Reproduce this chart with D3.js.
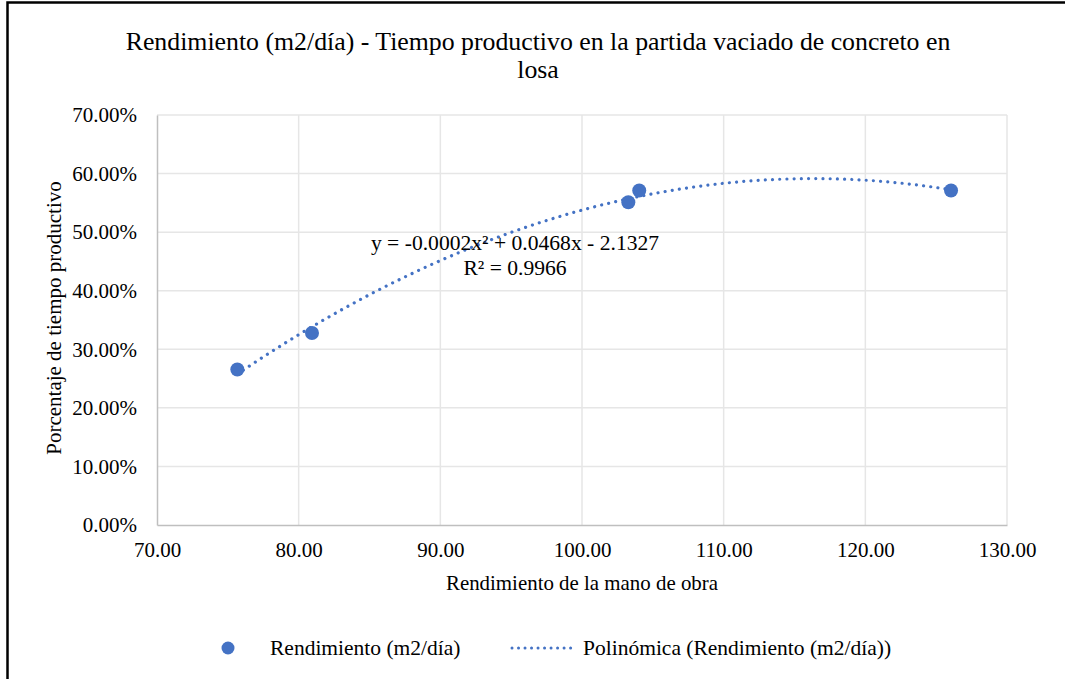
<!DOCTYPE html>
<html>
<head>
<meta charset="utf-8">
<script src="https://cdn.jsdelivr.net/npm/d3@7"></script>
<style>
  body { margin: 0; background: #fff; }
  svg { display: block; }
  svg text { font-family: "Liberation Serif", "Times New Roman", serif !important; fill: #000; }
</style>
</head>
<body>
<svg id="chart" width="1065" height="679"></svg>
<script>
// ---- data ----
const titleLines = ["Rendimiento (m2/día) - Tiempo productivo en la partida vaciado de concreto en", "losa"];
const rendimiento = [75.67, 80.94, 103.27, 104.04, 126.05];          // m2/día
const tiempoProductivo = [0.2654, 0.3278, 0.5511, 0.5710, 0.5710];   // share of productive time
const xTicks = [70, 80, 90, 100, 110, 120, 130];
const yTicks = [0, 0.1, 0.2, 0.3, 0.4, 0.5, 0.6, 0.7];
const equationLines = ["y = -0.0002x² + 0.0468x - 2.1327", "R² = 0.9966"];
const legendLabels = ["Rendimiento (m2/día)", "Polinómica (Rendimiento (m2/día))"];
const xTitle = "Rendimiento de la mano de obra";
const yTitle = "Porcentaje de tiempo productivo";

// ---- layout ----
const W = 1065, H = 679;
const plot = { left: 157, right: 1007, top: 115, bottom: 525 };
const blue = "#4472C4";
const serif = '"Liberation Serif", "Times New Roman", serif';

const svg = d3.select("#chart").attr("font-family", serif);
svg.append("rect").attr("width", W).attr("height", H).attr("fill", "#fff");

// frame (left and top edges)
svg.append("path")
  .attr("d", `M7.5,${H} V2.5 H${W}`)
  .attr("fill", "none").attr("stroke", "#000").attr("stroke-width", 2.5);

const x = d3.scaleLinear().domain([70, 130]).range([plot.left, plot.right]);
const y = d3.scaleLinear().domain([0, 0.7]).range([plot.bottom, plot.top]);

// gridlines
const grid = svg.append("g");
grid.selectAll(".gx").data(xTicks.slice(1)).join("line")
  .attr("x1", d => x(d)).attr("x2", d => x(d))
  .attr("y1", plot.top).attr("y2", plot.bottom)
  .attr("stroke", "#e6e6e6").attr("stroke-width", 1.5);
grid.selectAll(".gy").data(yTicks.slice(1)).join("line")
  .attr("x1", plot.left).attr("x2", plot.right)
  .attr("y1", d => y(d)).attr("y2", d => y(d))
  .attr("stroke", "#e6e6e6").attr("stroke-width", 1.5);

// axes
const xAxis = d3.axisBottom(x).tickValues(xTicks).tickSize(0).tickPadding(17)
  .tickFormat(d3.format(".2f"));
const gx = svg.append("g").attr("transform", `translate(0,${plot.bottom})`).call(xAxis)
  .attr("font-family", serif);
gx.select(".domain").attr("stroke", "#bfbfbf").attr("stroke-width", 1.5);
gx.selectAll("text").style("font-size", "21px");

const yAxis = d3.axisLeft(y).tickValues(yTicks).tickSize(0).tickPadding(20)
  .tickFormat(d3.format(".2%"));
const gy = svg.append("g").attr("transform", `translate(${plot.left},0)`).call(yAxis)
  .attr("font-family", serif);
gy.select(".domain").attr("stroke", "#bfbfbf").attr("stroke-width", 1.5);
gy.selectAll("text").style("font-size", "21px");

// quadratic least-squares trend (centered for stability)
const n = rendimiento.length;
const mx = d3.mean(rendimiento);
const u = rendimiento.map(v => v - mx);
const s = k => d3.sum(u, v => Math.pow(v, k));
const t = k => d3.sum(u, (v, i) => Math.pow(v, k) * tiempoProductivo[i]);
function solve3(A, b) {
  const M = A.map((r, i) => [...r, b[i]]);
  for (let c = 0; c < 3; c++) {
    let p = c;
    for (let r = c + 1; r < 3; r++) if (Math.abs(M[r][c]) > Math.abs(M[p][c])) p = r;
    [M[c], M[p]] = [M[p], M[c]];
    for (let r = 0; r < 3; r++) if (r !== c) {
      const f = M[r][c] / M[c][c];
      for (let k = c; k < 4; k++) M[r][k] -= f * M[c][k];
    }
  }
  return M.map((r, i) => r[3] / r[i]);
}
const [c0, c1, c2] = solve3(
  [[n, s(1), s(2)], [s(1), s(2), s(3)], [s(2), s(3), s(4)]],
  [t(0), t(1), t(2)]
);
const trend = v => c0 + c1 * (v - mx) + c2 * (v - mx) * (v - mx);
const [xmin, xmax] = d3.extent(rendimiento);
const trendPts = d3.range(0, 201).map(i => xmin + (xmax - xmin) * i / 200);

svg.append("path")
  .datum(trendPts)
  .attr("d", d3.line().x(d => x(d)).y(d => y(trend(d))))
  .attr("fill", "none").attr("stroke", blue).attr("stroke-width", 3.2)
  .attr("stroke-linecap", "round").attr("stroke-dasharray", "0.01 7.2");

// points
svg.append("g").selectAll("circle").data(rendimiento).join("circle")
  .attr("cx", d => x(d)).attr("cy", (d, i) => y(tiempoProductivo[i]))
  .attr("r", 7).attr("fill", blue);

// equation label
svg.append("g").selectAll("text").data(equationLines).join("text")
  .attr("x", 515).attr("y", (d, i) => 250 + i * 25)
  .attr("text-anchor", "middle").style("font-size", "21.6px").text(d => d);

// titles
svg.append("g").selectAll("text").data(titleLines).join("text")
  .attr("x", 538).attr("y", (d, i) => 50 + i * 28)
  .attr("text-anchor", "middle").style("font-size", "25.8px").text(d => d);

svg.append("text").attr("x", 582).attr("y", 590)
  .attr("text-anchor", "middle").style("font-size", "20.9px").text(xTitle);

svg.append("text")
  .attr("transform", `translate(61,${(plot.top + plot.bottom) / 2 - 2}) rotate(-90)`)
  .attr("text-anchor", "middle").style("font-size", "21px").text(yTitle);

// legend
const lg = svg.append("g");
lg.append("circle").attr("cx", 228).attr("cy", 648).attr("r", 6.5).attr("fill", blue);
lg.append("text").attr("x", 270).attr("y", 655).style("font-size", "21.5px").text(legendLabels[0]);
lg.append("line").attr("x1", 512).attr("x2", 577).attr("y1", 648).attr("y2", 648)
  .attr("stroke", blue).attr("stroke-width", 3).attr("stroke-linecap", "round")
  .attr("stroke-dasharray", "0.01 6.5");
lg.append("text").attr("x", 583).attr("y", 655).style("font-size", "21.5px").text(legendLabels[1]);
</script>
</body>
</html>
